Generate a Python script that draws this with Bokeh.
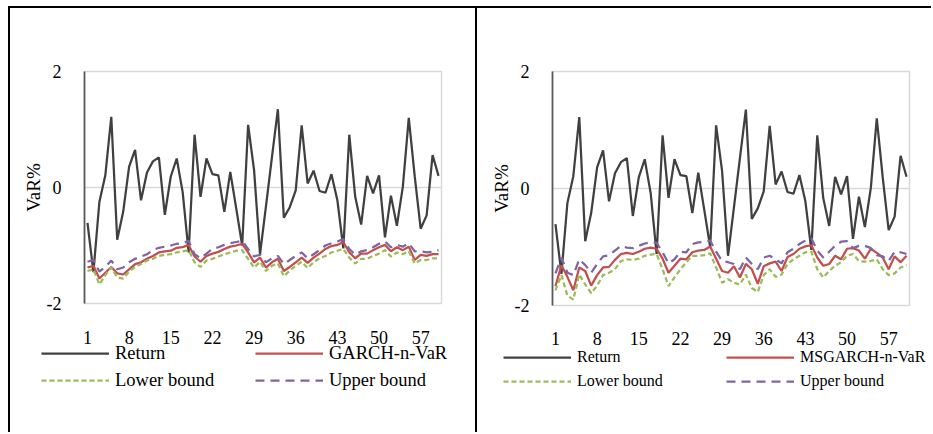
from bokeh.plotting import figure
from bokeh.models import Range1d, FixedTicker, Legend, LegendItem, ColumnDataSource
from bokeh.layouts import row, column
from bokeh.embed import file_html
from bokeh.resources import INLINE

# ---------------- data ----------------
periods = list(range(1, 61))
x_tick_labels = [1, 8, 15, 22, 29, 36, 43, 50, 57]
y_ticks = [-2, 0, 2]
y_tick_labels = ["-2", "0", "2"]

returns = [-0.61, -1.46, -0.25, 0.21, 1.22, -0.90, -0.42, 0.36, 0.65, -0.22,
           0.26, 0.45, 0.52, -0.47, 0.19, 0.50, -0.08, -1.12, 0.91, -0.16,
           0.50, 0.23, 0.21, -0.42, 0.27, -0.36, -1.00, 1.08, 0.30, -1.15,
           -0.32, 0.52, 1.35, -0.52, -0.34, -0.05, 1.07, 0.07, 0.29, -0.06,
           -0.09, 0.23, -0.22, -1.05, 0.91, -0.16, -0.64, 0.20, -0.10, 0.21,
           -0.86, -0.14, -0.66, 0.01, 1.20, 0.19, -0.71, -0.48, 0.56, 0.20]

garch_var = [-1.38, -1.35, -1.57, -1.47, -1.37, -1.48, -1.50, -1.41, -1.32, -1.29,
             -1.23, -1.18, -1.12, -1.10, -1.09, -1.04, -1.03, -0.99, -1.19, -1.28,
             -1.18, -1.14, -1.11, -1.06, -1.02, -1.00, -0.97, -1.12, -1.29, -1.21,
             -1.38, -1.29, -1.23, -1.44, -1.37, -1.29, -1.21, -1.30, -1.21, -1.14,
             -1.06, -1.01, -0.99, -0.94, -1.12, -1.22, -1.14, -1.14, -1.08, -1.03,
             -0.99, -1.10, -1.03, -1.08, -1.02, -1.25, -1.16, -1.18, -1.15, -1.15]

garch_lower = [-1.44, -1.41, -1.67, -1.51, -1.38, -1.55, -1.57, -1.45, -1.37, -1.32,
               -1.26, -1.23, -1.18, -1.16, -1.15, -1.12, -1.10, -1.08, -1.29, -1.37,
               -1.26, -1.23, -1.19, -1.15, -1.12, -1.09, -1.08, -1.23, -1.38, -1.28,
               -1.44, -1.35, -1.31, -1.53, -1.43, -1.35, -1.28, -1.39, -1.29, -1.22,
               -1.18, -1.12, -1.09, -1.06, -1.21, -1.31, -1.23, -1.23, -1.18, -1.14,
               -1.08, -1.19, -1.12, -1.15, -1.10, -1.31, -1.25, -1.25, -1.22, -1.22]

garch_upper = [-1.28, -1.25, -1.45, -1.37, -1.26, -1.41, -1.38, -1.29, -1.23, -1.19,
               -1.15, -1.08, -1.04, -1.02, -1.00, -0.97, -0.96, -0.92, -1.15, -1.22,
               -1.14, -1.06, -1.03, -0.99, -0.96, -0.94, -0.92, -1.06, -1.19, -1.16,
               -1.29, -1.22, -1.18, -1.32, -1.25, -1.18, -1.12, -1.22, -1.15, -1.08,
               -1.00, -0.96, -0.93, -0.89, -1.06, -1.16, -1.10, -1.08, -1.03, -0.97,
               -0.93, -1.03, -0.99, -1.02, -0.96, -1.10, -1.10, -1.12, -1.11, -1.08]

msgarch_var = [-1.67, -1.31, -1.51, -1.74, -1.35, -1.41, -1.66, -1.48, -1.35, -1.34,
               -1.22, -1.12, -1.10, -1.12, -1.08, -1.03, -1.01, -1.03, -1.20, -1.44,
               -1.32, -1.20, -1.21, -1.09, -1.06, -1.05, -0.99, -1.20, -1.41, -1.44,
               -1.33, -1.52, -1.29, -1.38, -1.63, -1.33, -1.28, -1.25, -1.41, -1.17,
               -1.12, -1.03, -0.99, -0.97, -1.18, -1.32, -1.29, -1.15, -1.21, -1.03,
               -1.02, -1.06, -1.20, -1.03, -1.10, -1.18, -1.38, -1.16, -1.26, -1.15]

msgarch_lower = [-1.74, -1.48, -1.83, -1.90, -1.47, -1.64, -1.79, -1.66, -1.48, -1.44,
                 -1.38, -1.24, -1.21, -1.22, -1.20, -1.15, -1.13, -1.12, -1.38, -1.67,
                 -1.52, -1.38, -1.26, -1.15, -1.15, -1.14, -1.11, -1.35, -1.61, -1.55,
                 -1.61, -1.64, -1.47, -1.70, -1.77, -1.48, -1.38, -1.51, -1.47, -1.29,
                 -1.21, -1.15, -1.09, -1.08, -1.38, -1.52, -1.41, -1.32, -1.26, -1.15,
                 -1.12, -1.24, -1.25, -1.24, -1.21, -1.38, -1.48, -1.45, -1.35, -1.31]

msgarch_upper = [-1.45, -1.18, -1.44, -1.48, -1.21, -1.31, -1.44, -1.29, -1.16, -1.14,
                 -1.06, -0.98, -1.01, -1.02, -0.98, -0.94, -0.92, -0.93, -1.09, -1.28,
                 -1.21, -1.08, -1.09, -0.95, -0.92, -0.91, -0.89, -1.08, -1.24, -1.26,
                 -1.29, -1.38, -1.18, -1.29, -1.38, -1.18, -1.15, -1.21, -1.28, -1.09,
                 -1.03, -0.95, -0.89, -0.85, -1.06, -1.18, -1.08, -0.98, -0.91, -0.90,
                 -1.02, -0.98, -0.98, -1.02, -1.14, -1.16, -1.24, -1.08, -1.09, -1.12]

# ---------------- styling ----------------
FONT = "Liberation Serif"
C_RET = "#404040"
C_VAR = "#c0504d"
C_LOW = "#9bbb59"
C_UP = "#8064a2"
LW = 2.25
DASH_LOW = "5 3"
DASH_UP = "9 6"


def no_frame_align(fig):
    try:
        fig.frame_align = False
    except Exception:
        pass


def add_series(p, src, visible=True):
    r_ret = p.line("x", "ret", source=src, line_color=C_RET, line_width=LW, visible=visible)
    r_var = p.line("x", "var", source=src, line_color=C_VAR, line_width=LW, visible=visible)
    r_low = p.line("x", "low", source=src, line_color=C_LOW, line_width=LW,
                   line_dash=DASH_LOW, visible=visible)
    r_up = p.line("x", "up", source=src, line_color=C_UP, line_width=LW,
                  line_dash=DASH_UP, visible=visible)
    return r_ret, r_var, r_low, r_up


def make_panel(var_vals, low_vals, up_vals, var_label, mbl, mbr, frame_h, mbb,
               x_standoff, leg_font, leg_h, leg_spacing, legA_x, legB_x, leg_y,
               leg_fig_h, overlap):
    src = ColumnDataSource(dict(x=periods, ret=returns, var=var_vals, low=low_vals, up=up_vals))

    # ---- chart ----
    p = figure(frame_width=355, frame_height=frame_h,
               x_range=Range1d(0.5, 60.5), y_range=Range1d(-2, 2),
               output_backend="svg", toolbar_location=None,
               min_border_left=mbl, min_border_right=mbr,
               min_border_top=63, min_border_bottom=mbb)
    no_frame_align(p)
    p.background_fill_color = "white"
    p.border_fill_color = "white"
    p.outline_line_color = "#d9d9d9"
    p.outline_line_width = 1.5
    p.outline_line_alpha = 1.0

    p.xgrid.visible = False
    p.ygrid.ticker = FixedTicker(ticks=y_ticks)
    p.ygrid.grid_line_color = "#d9d9d9"
    p.ygrid.grid_line_width = 1.5

    xa = p.xaxis[0]
    xa.ticker = FixedTicker(ticks=x_tick_labels)
    xa.axis_line_color = None
    xa.major_tick_line_color = None
    xa.minor_tick_line_color = None
    xa.major_tick_out = 0
    xa.major_label_standoff = x_standoff
    xa.major_label_text_font = FONT
    xa.major_label_text_font_size = "18px"
    xa.major_label_text_color = "black"

    ya = p.yaxis[0]
    ya.ticker = FixedTicker(ticks=y_ticks)
    ya.major_label_overrides = dict(zip(y_ticks, y_tick_labels))
    ya.axis_line_color = "#595959"
    ya.axis_line_width = 1.75
    ya.major_tick_line_color = None
    ya.minor_tick_line_color = None
    ya.major_tick_out = 0
    ya.major_label_standoff = 23
    ya.major_label_text_font = FONT
    ya.major_label_text_font_size = "18px"
    ya.major_label_text_color = "black"
    ya.axis_label = "VaR%"
    ya.axis_label_text_font = FONT
    ya.axis_label_text_font_size = "19px"
    ya.axis_label_text_font_style = "normal"
    ya.axis_label_text_color = "black"
    ya.axis_label_standoff = 0

    add_series(p, src)
    p.styles = {"border-top": "2px solid black", "border-left": "2px solid black"}

    # ---- legend carrier (transparent, overlapping the bottom of the chart) ----
    width = mbl + 355 + mbr
    lf = figure(width=width, height=leg_fig_h, output_backend="svg", toolbar_location=None,
                x_axis_location=None, y_axis_location=None, min_border=0,
                x_range=Range1d(0.5, 60.5), y_range=Range1d(-2, 2))
    no_frame_align(lf)
    lf.outline_line_color = None
    lf.background_fill_alpha = 0
    lf.border_fill_alpha = 0
    lf.grid.visible = False
    r_ret, r_var, r_low, r_up = add_series(lf, src, visible=False)

    def mk_legend(items, loc):
        lg = Legend(items=items, location=loc)
        lg.border_line_color = None
        lg.background_fill_alpha = 0
        lg.padding = 0
        lg.margin = 0
        lg.spacing = leg_spacing
        lg.glyph_width = 68
        lg.glyph_height = leg_h
        lg.label_height = leg_h
        lg.label_standoff = 6
        lg.label_text_font = FONT
        lg.label_text_font_size = leg_font
        lg.label_text_color = "black"
        lg.inactive_fill_alpha = 0
        return lg

    lf.add_layout(mk_legend([LegendItem(label="Return", renderers=[r_ret]),
                             LegendItem(label="Lower bound", renderers=[r_low])],
                            (legA_x, leg_y)))
    lf.add_layout(mk_legend([LegendItem(label=var_label, renderers=[r_var]),
                             LegendItem(label="Upper bound", renderers=[r_up])],
                            (legB_x, leg_y)))
    lf.styles = {"border-left": "2px solid black", "margin-top": f"-{overlap}px"}
    return column(p, lf)


panel1 = make_panel(garch_var, garch_lower, garch_upper, "GARCH-n-VaR",
                    mbl=74, mbr=36, frame_h=230, mbb=48, x_standoff=27,
                    leg_font="18.5px", leg_h=22, leg_spacing=5,
                    legA_x=31, legB_x=245, leg_y=41, leg_fig_h=95, overlap=12)
panel2 = make_panel(msgarch_var, msgarch_lower, msgarch_upper, "MSGARCH-n-VaR",
                    mbl=75, mbr=24, frame_h=232, mbb=47, x_standoff=26,
                    leg_font="16px", leg_h=20, leg_spacing=4,
                    legA_x=26, legB_x=249, leg_y=41, leg_fig_h=94, overlap=12)

layout = row(panel1, panel2)
layout.styles = {"margin-left": "8px", "margin-top": "6px"}
open("out.html", "w").write(file_html(layout, INLINE))
